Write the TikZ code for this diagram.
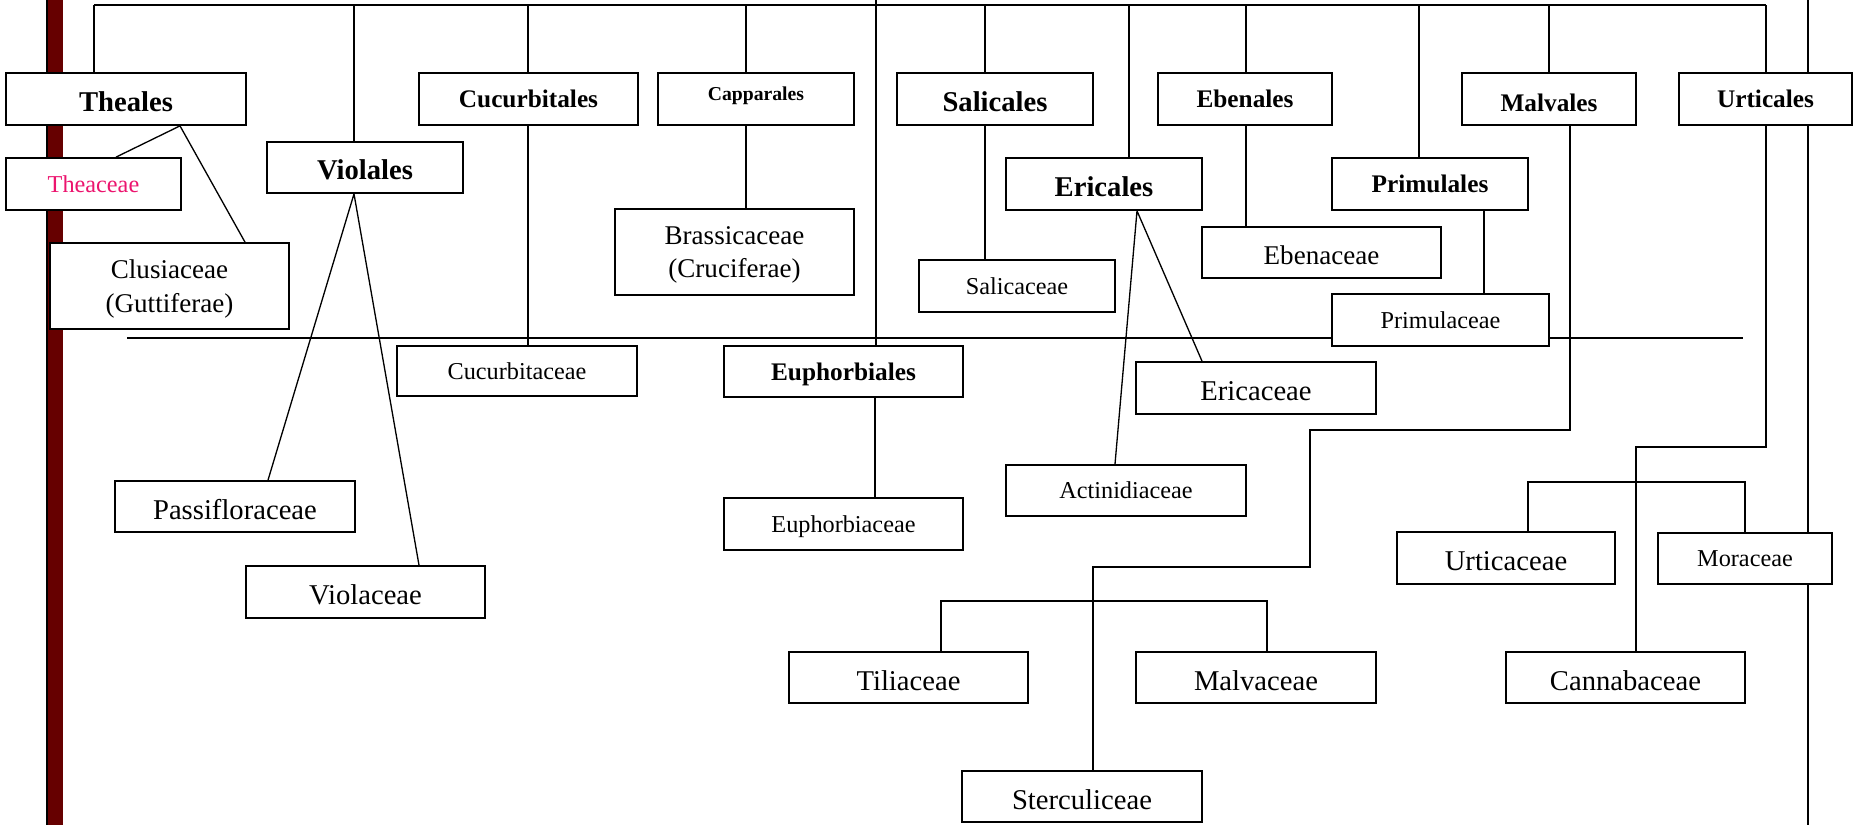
\documentclass[tikz,border=0pt]{standalone}
\usepackage{fontspec}
\setmainfont{Liberation Serif}
\usepackage{xcolor}
\usetikzlibrary{backgrounds}
\definecolor{barred}{RGB}{102,0,0}
\definecolor{thpink}{RGB}{236,20,110}
\tikzset{
  taxbox/.style 2 args={draw, fill=white, line width=1pt, inner sep=0pt, align=center,
    minimum width=#1*0.02cm, minimum height=#2*0.02cm},
  ordbig/.style={font=\bfseries\fontsize{16.3}{18}\selectfont, text height=14.2pt, text depth=0pt},
  ordmid/.style={font=\bfseries\fontsize{14.4}{17}\selectfont, text height=9.8pt, text depth=0pt},
  ordsmall/.style={font=\bfseries\fontsize{11.2}{13}\selectfont, text height=2.2pt, text depth=0pt},
  fambig/.style={font=\fontsize{16.3}{18}\selectfont, text height=14.7pt, text depth=0pt},
  fammid/.style={font=\fontsize{15.4}{17.6}\selectfont, text height=13.9pt, text depth=0pt},
  famtwo/.style={font=\fontsize{15.4}{19}\selectfont, text depth=-3.5pt},
  famsmall/.style={font=\fontsize{13.8}{16}\selectfont, text height=9.4pt, text depth=0pt},
  link/.style={line width=0.75pt},
}

\begin{document}
\begin{tikzpicture}[x=0.02cm, y=-0.02cm]
\useasboundingbox (0,0) rectangle (1853,825);

\node[taxbox={240}{52}, ordbig] (theales) at (126,99) {Theales};
\node[taxbox={219}{52}, ordmid] (cucurbitales) at (528.5,99) {Cucurbitales};
\node[taxbox={196}{52}, ordsmall] (capparales) at (756,99) {Capparales};
\node[taxbox={196}{52}, ordbig] (salicales) at (995,99) {Salicales};
\node[taxbox={174}{52}, ordmid] (ebenales) at (1245,99) {Ebenales};
\node[taxbox={174}{52}, ordmid, text height=14.1pt] (malvales) at (1549,99) {Malvales};
\node[taxbox={173}{52}, ordmid] (urticales) at (1765.5,99) {Urticales};

\node[taxbox={175}{52}, famsmall, text=thpink] (theaceae) at (93.5,184) {Theaceae};
\node[taxbox={196}{51}, ordbig] (violales) at (365,167.5) {Violales};
\node[taxbox={196}{52}, ordbig] (ericales) at (1104,184) {Ericales};
\node[taxbox={196}{52}, ordmid] (primulales) at (1430,184) {Primulales};

\node[taxbox={239}{86}, famtwo] (clusiaceae) at (169.5,286) {Clusiaceae\\(Guttiferae)};
\node[taxbox={239}{86}, famtwo] (brassicaceae) at (734.5,252) {Brassicaceae\\(Cruciferae)};
\node[taxbox={196}{52}, famsmall] (salicaceae) at (1017,286) {Salicaceae};
\node[taxbox={239}{51}, fammid] (ebenaceae) at (1321.5,252.5) {Ebenaceae};
\node[taxbox={217}{52}, famsmall] (primulaceae) at (1440.5,320) {Primulaceae};

\node[taxbox={240}{50}, famsmall] (cucurbitaceae) at (517,371) {Cucurbitaceae};
\node[taxbox={239}{51}, ordmid] (euphorbiales) at (843.5,371.5) {Euphorbiales};
\node[taxbox={240}{52}, fambig] (ericaceae) at (1256,388) {Ericaceae};
\node[taxbox={240}{51}, famsmall] (actinidiaceae) at (1126,490.5) {Actinidiaceae};
\node[taxbox={240}{51}, fambig] (passifloraceae) at (235,506.5) {Passifloraceae};
\node[taxbox={239}{52}, famsmall] (euphorbiaceae) at (843.5,524) {Euphorbiaceae};
\node[taxbox={239}{52}, fambig] (violaceae) at (365.5,592) {Violaceae};
\node[taxbox={218}{52}, fambig] (urticaceae) at (1506,558) {Urticaceae};
\node[taxbox={174}{51}, famsmall] (moraceae) at (1745,558.5) {Moraceae};
\node[taxbox={239}{51}, fambig] (tiliaceae) at (908.5,677.5) {Tiliaceae};
\node[taxbox={240}{51}, fambig] (malvaceae) at (1256,677.5) {Malvaceae};
\node[taxbox={239}{51}, fambig] (cannabaceae) at (1625.5,677.5) {Cannabaceae};
\node[taxbox={240}{51}, fambig] (sterculiceae) at (1082,796.5) {Sterculiceae};

\begin{scope}[on background layer]
\fill[barred] (46,0) rectangle (63,825);
\draw[line width=0.04cm] (46.5,0) -- (46.5,825);
\draw[link] (94,5) -- (1766,5);
\foreach \x/\n in {94/theales, 354/violales, 528/cucurbitales, 746/capparales, 985/salicales,
  1129/ericales, 1246/ebenales, 1419/primulales, 1549/malvales, 1766/urticales}
  \draw[link] (\x,5) -- (\n.north -| \x,0);
\draw[link] (876,0) -- (euphorbiales.north -| 876,0);
\draw[link] (1808,0) -- (1808,825);
\draw[line width=1.4pt] (127,338) -- (1743,338);
\draw[link] (theaceae.north -| 116,0) -- (theales.south -| 180,0) -- (clusiaceae.north -| 245,0);
\draw[link] (passifloraceae.north -| 268,0) -- (violales.south -| 354,0) -- (violaceae.north -| 419,0);
\draw[link] (cucurbitales.south -| 528,0) -- (cucurbitaceae.north -| 528,0);
\draw[link] (capparales.south -| 746,0) -- (brassicaceae.north -| 746,0);
\draw[link] (salicales.south -| 985,0) -- (salicaceae.north -| 985,0);
\draw[link] (actinidiaceae.north -| 1115,0) -- (ericales.south -| 1137,0) -- (ericaceae.north -| 1202,0);
\draw[link] (ebenales.south -| 1246,0) -- (ebenaceae.north -| 1246,0);
\draw[link] (primulales.south -| 1484,0) -- (primulaceae.north -| 1484,0);
\draw[link] (euphorbiales.south -| 875,0) -- (euphorbiaceae.north -| 875,0);
\draw[link] (malvales.south -| 1570,0) |- (1310,430) |- (1093,567) -- (sterculiceae.north -| 1093,0);
\draw[link] (tiliaceae.north -| 941,0) -- (941,601) -- (1267,601) -- (malvaceae.north -| 1267,0);
\draw[link] (urticales.south -| 1766,0) -- (1766,447) -| (cannabaceae.north -| 1636,0);
\draw[link] (urticaceae.north -| 1528,0) -- (1528,482) -- (1745,482) -- (moraceae.north);
\end{scope}
\end{tikzpicture}
\end{document}
